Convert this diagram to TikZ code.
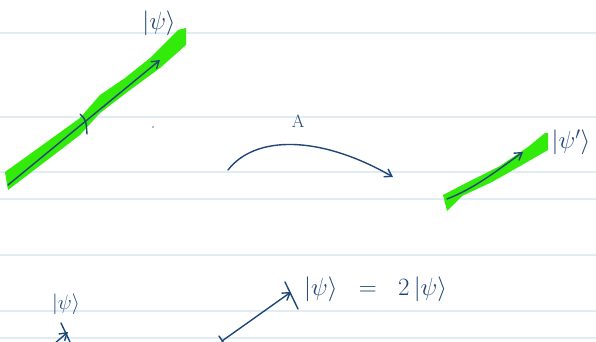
\documentclass[tikz,border=0pt]{standalone}
\usetikzlibrary{arrows.meta}
\definecolor{ink}{RGB}{30,70,120}
\definecolor{hl}{RGB}{50,235,10}
\definecolor{rule}{RGB}{225,236,242}
\tikzset{
  ruleline/.style={draw=rule,line width=1.2pt},
  inkline/.style={draw=ink,line width=1.4pt,line cap=round},
  vec/.style={inkline,-{Straight Barb[length=7pt,width=9pt]}},
  hlband/.style={fill=hl,draw=none},
  lbl/.style={text=ink,inner sep=0pt,font=\fontsize{24}{28}\selectfont}
}
\begin{document}
\begin{tikzpicture}[x=1pt,y=-1pt]
\useasboundingbox (0,0) rectangle (596,342);
\fill[white] (0,0) rectangle (596,342);
% ruled lines
\foreach \yy in {33,117,172,199,255,311,338}
  \draw[ruleline] (0,\yy) -- (596,\yy);
% top-left highlighted vector
\fill[hlband] (5,172) -- (80,118) -- (100,95) -- (125,78) -- (150,58) -- (178,30) -- (186,28)
  -- (186,45) -- (160,68) -- (130,90) -- (100,113) -- (80,135) -- (8,190) -- cycle;
\coordinate (o1) at (8,185);
\coordinate (t1) at (160,60);
\draw[vec] (o1) -- (t1);
\coordinate (k1a) at (80,114);
\coordinate (k1b) at (87,134);
\draw[inkline] (k1a) .. controls (86,120) .. (k1b);
\node[lbl] (psi1) at (159,23) {$|\psi\rangle$};
% dot
\fill[ink!70] (153,127) circle (0.9);
% operator arrow
\coordinate (a0) at (228,170);
\coordinate (a1) at (393,177);
\draw[vec] (a0) .. controls (255,135) and (320,135) .. (a1);
\node[lbl,font=\fontsize{18}{20}\selectfont] (A) at (298,121) {A};
% right highlighted vector
\fill[hlband] (443,195) -- (470,181) -- (500,166) -- (528,147) -- (545,133) -- (548,133)
  -- (548,150) -- (522,165) -- (492,182) -- (462,196) -- (447,211) -- cycle;
\coordinate (o2) at (447,199);
\coordinate (t2) at (523,152);
\draw[vec] (o2) .. controls (475,188) and (495,172) .. (t2);
\node[lbl] (psi2) at (571,142) {$|\psi'\rangle$};
% bottom-left vector
\node[lbl,font=\fontsize{20}{24}\selectfont] (psi3) at (66,304) {$|\psi\rangle$};
\coordinate (o3) at (47,350);
\coordinate (t3) at (68,332);
\draw[vec] (o3) -- (t3);
\draw[inkline] (61,323) -- (70,342);
% bottom-middle vector
\coordinate (o4) at (222,341);
\coordinate (t4) at (291,292);
\draw[vec] (o4) -- (t4);
\draw[inkline] (219,336) -- (225,345);
\draw[inkline] (285,282) -- (298,309);
\node[lbl,anchor=west] (eq) at (304,289) {$|\psi\rangle\ \ =\ \ 2\,|\psi\rangle$};
\end{tikzpicture}
\end{document}
